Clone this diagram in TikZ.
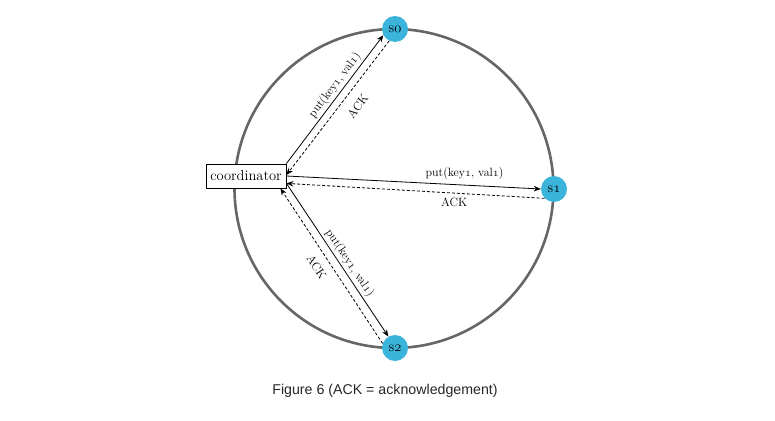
\documentclass[tikz,border=0pt]{standalone}
\usepackage{fix-cm}
\usepackage{fontspec}
\setsansfont{Liberation Sans}
\usetikzlibrary{arrows.meta}
\definecolor{nodeBlue}{RGB}{58, 180, 218}
\definecolor{ringGray}{RGB}{102, 102, 102}
\newcommand{\onum}[1]{{\usefont{OML}{cmm}{m}{it}#1}}

\begin{document}
\begin{tikzpicture}[x=1pt, y=-1pt,
    server/.style={circle, fill=nodeBlue, minimum size=26pt, inner sep=0pt, font=\fontsize{14.5}{16}\selectfont},
    coordbox/.style={draw, thick, minimum width=80pt, minimum height=24pt, inner xsep=3pt, font=\fontsize{14.5}{16}\selectfont},
    putarrow/.style={-{Stealth[length=7pt, width=5.5pt]}, line width=0.8pt},
    ackarrow/.style={putarrow, dash pattern=on 3pt off 2pt},
    lbl/.style={font=\fontsize{12}{14}\selectfont, inner sep=2pt}]
      \useasboundingbox (0,0) rectangle (775,420);

      \draw[ringGray, line width=2.6pt] (394,188.5) circle (159.5);

      \node[coordbox, fill=white] (coord) at (246,176) {coordinator};
      \node[server] (s0) at (395,29) {s\onum{0}};
      \node[server] (s1) at (554,189) {s\onum{1}};
      \node[server] (s2) at (395,348) {s\onum{2}};

      \draw[putarrow] (coord.north east) -- (s0.208) node[lbl, pos=0.57, sloped, above] {put(key\onum{1}, val\onum{1})};
      \draw[ackarrow] (s0.244) -- ([yshift=1pt]coord.east) node[lbl, pos=0.42, sloped, below, inner sep=10pt] {ACK};

      \draw[putarrow] (coord.east) -- (s1.west) node[lbl, pos=0.7, above, inner sep=5pt] {put(key\onum{1}, val\onum{1})};
      \draw[ackarrow] (s1.225) -- ([yshift=5pt]coord.south east) node[lbl, pos=0.35, below, inner sep=4pt] {ACK};

      \draw[putarrow] ([yshift=5pt]coord.south east) -- (s2.120) node[lbl, pos=0.55, sloped, above] {put(key\onum{1}, val\onum{1})};
      \draw[ackarrow] (s2.160) -- ([xshift=-6pt]coord.south east) node[lbl, pos=0.54, sloped, below, inner sep=8pt] {ACK};

      \node[font=\sffamily\fontsize{14.2}{16}\selectfont, text=black!85] (caption) at (385,391) {Figure 6 (ACK = acknowledgement)};
    \end{tikzpicture}
\end{document}
